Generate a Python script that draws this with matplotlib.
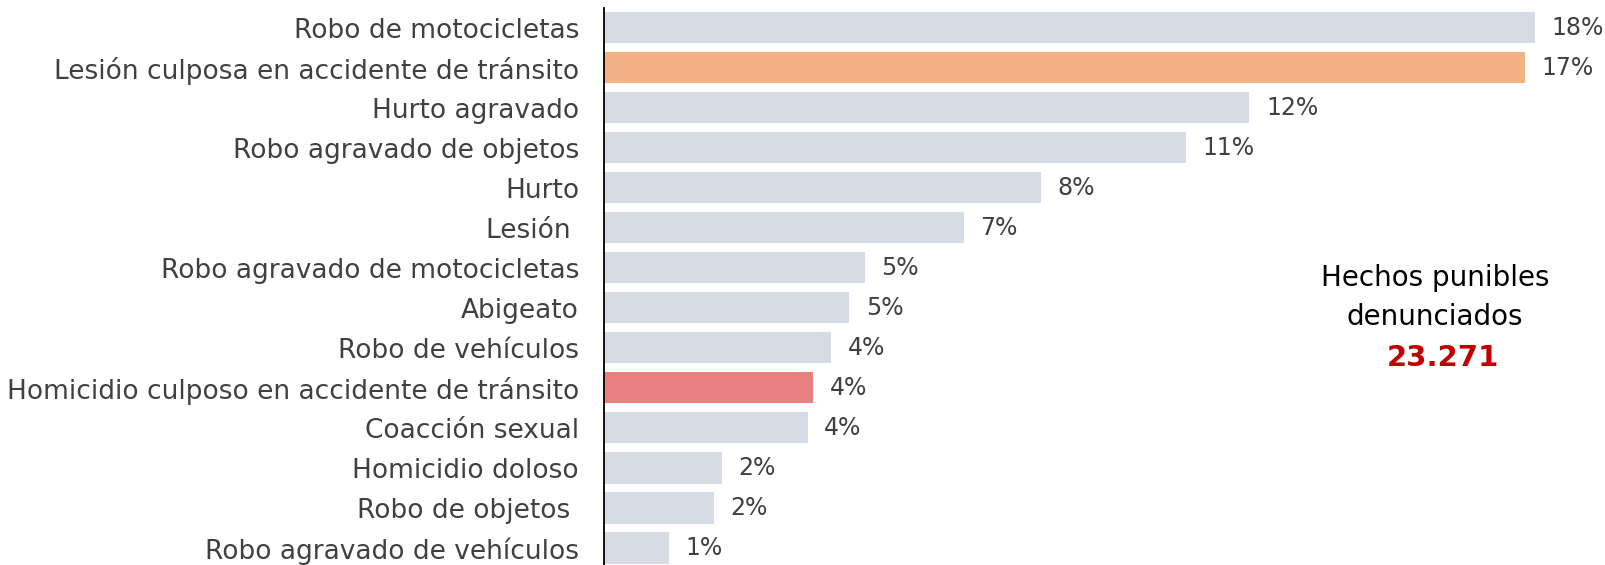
import matplotlib
matplotlib.use("Agg")
import matplotlib.pyplot as plt

# Share of reported offences by type (percent of total)
categories = [
    "Robo de motocicletas",
    "Lesión culposa en accidente de tránsito",
    "Hurto agravado",
    "Robo agravado de objetos",
    "Hurto",
    "Lesión ",
    "Robo agravado de motocicletas",
    "Abigeato",
    "Robo de vehículos",
    "Homicidio culposo en accidente de tránsito",
    "Coacción sexual",
    "Homicidio doloso",
    "Robo de objetos ",
    "Robo agravado de vehículos",
]
shares = [17.6, 17.4, 12.2, 11.0, 8.26, 6.8, 4.93, 4.64, 4.29, 3.95, 3.85, 2.23, 2.08, 1.23]
total_label = "23.271"
summary_lines = ["Hechos punibles", "denunciados"]

base_color = "#D6DCE5"
highlight = {
    "Lesión culposa en accidente de tránsito": "#F4B183",
    "Homicidio culposo en accidente de tránsito": "#E98080",
}
colors = [highlight.get(c, base_color) for c in categories]

font = "DejaVu Sans"
text_color = "#404040"

W, H, DPI = 1605, 565, 100
fig = plt.figure(figsize=(W / DPI, H / DPI), dpi=DPI)
left_px, top_px, bottom_px = 604, 7.5, 568
ax = fig.add_axes([left_px / W, 1 - bottom_px / H, 1 - left_px / W,
                   (bottom_px - top_px) / H])

y = list(range(len(categories)))
ax.barh(y, shares, height=0.78, color=colors, zorder=2)
ax.set_ylim(len(categories) - 0.5, -0.5)
ax.set_xlim(0, 18.92)

for yi, v in zip(y, shares):
    ax.annotate(f"{v:.0f}%", xy=(v, yi), xytext=(12, 0), textcoords="offset points",
                va="center", ha="left", fontsize=17, color=text_color,
                family=font)

ax.set_yticks(y)
ax.set_yticklabels(categories, fontsize=19, color=text_color, family=font)
ax.tick_params(axis="y", length=0, pad=18)
ax.set_xticks([])
for side in ("top", "right", "bottom"):
    ax.spines[side].set_visible(False)
ax.spines["left"].set_color("#000000")
ax.spines["left"].set_linewidth(1.3)

for line, ypx in zip(summary_lines, (278, 317)):
    fig.text(1435 / W, 1 - ypx / H, line, ha="center", va="center",
             fontsize=20, color="#000000", family=font)
fig.text(1443 / W, 1 - 358 / H, total_label, ha="center", va="center",
         fontsize=21, color="#C00000", family=font, fontweight="bold")

fig.savefig("out.png", dpi=DPI, facecolor="white")
